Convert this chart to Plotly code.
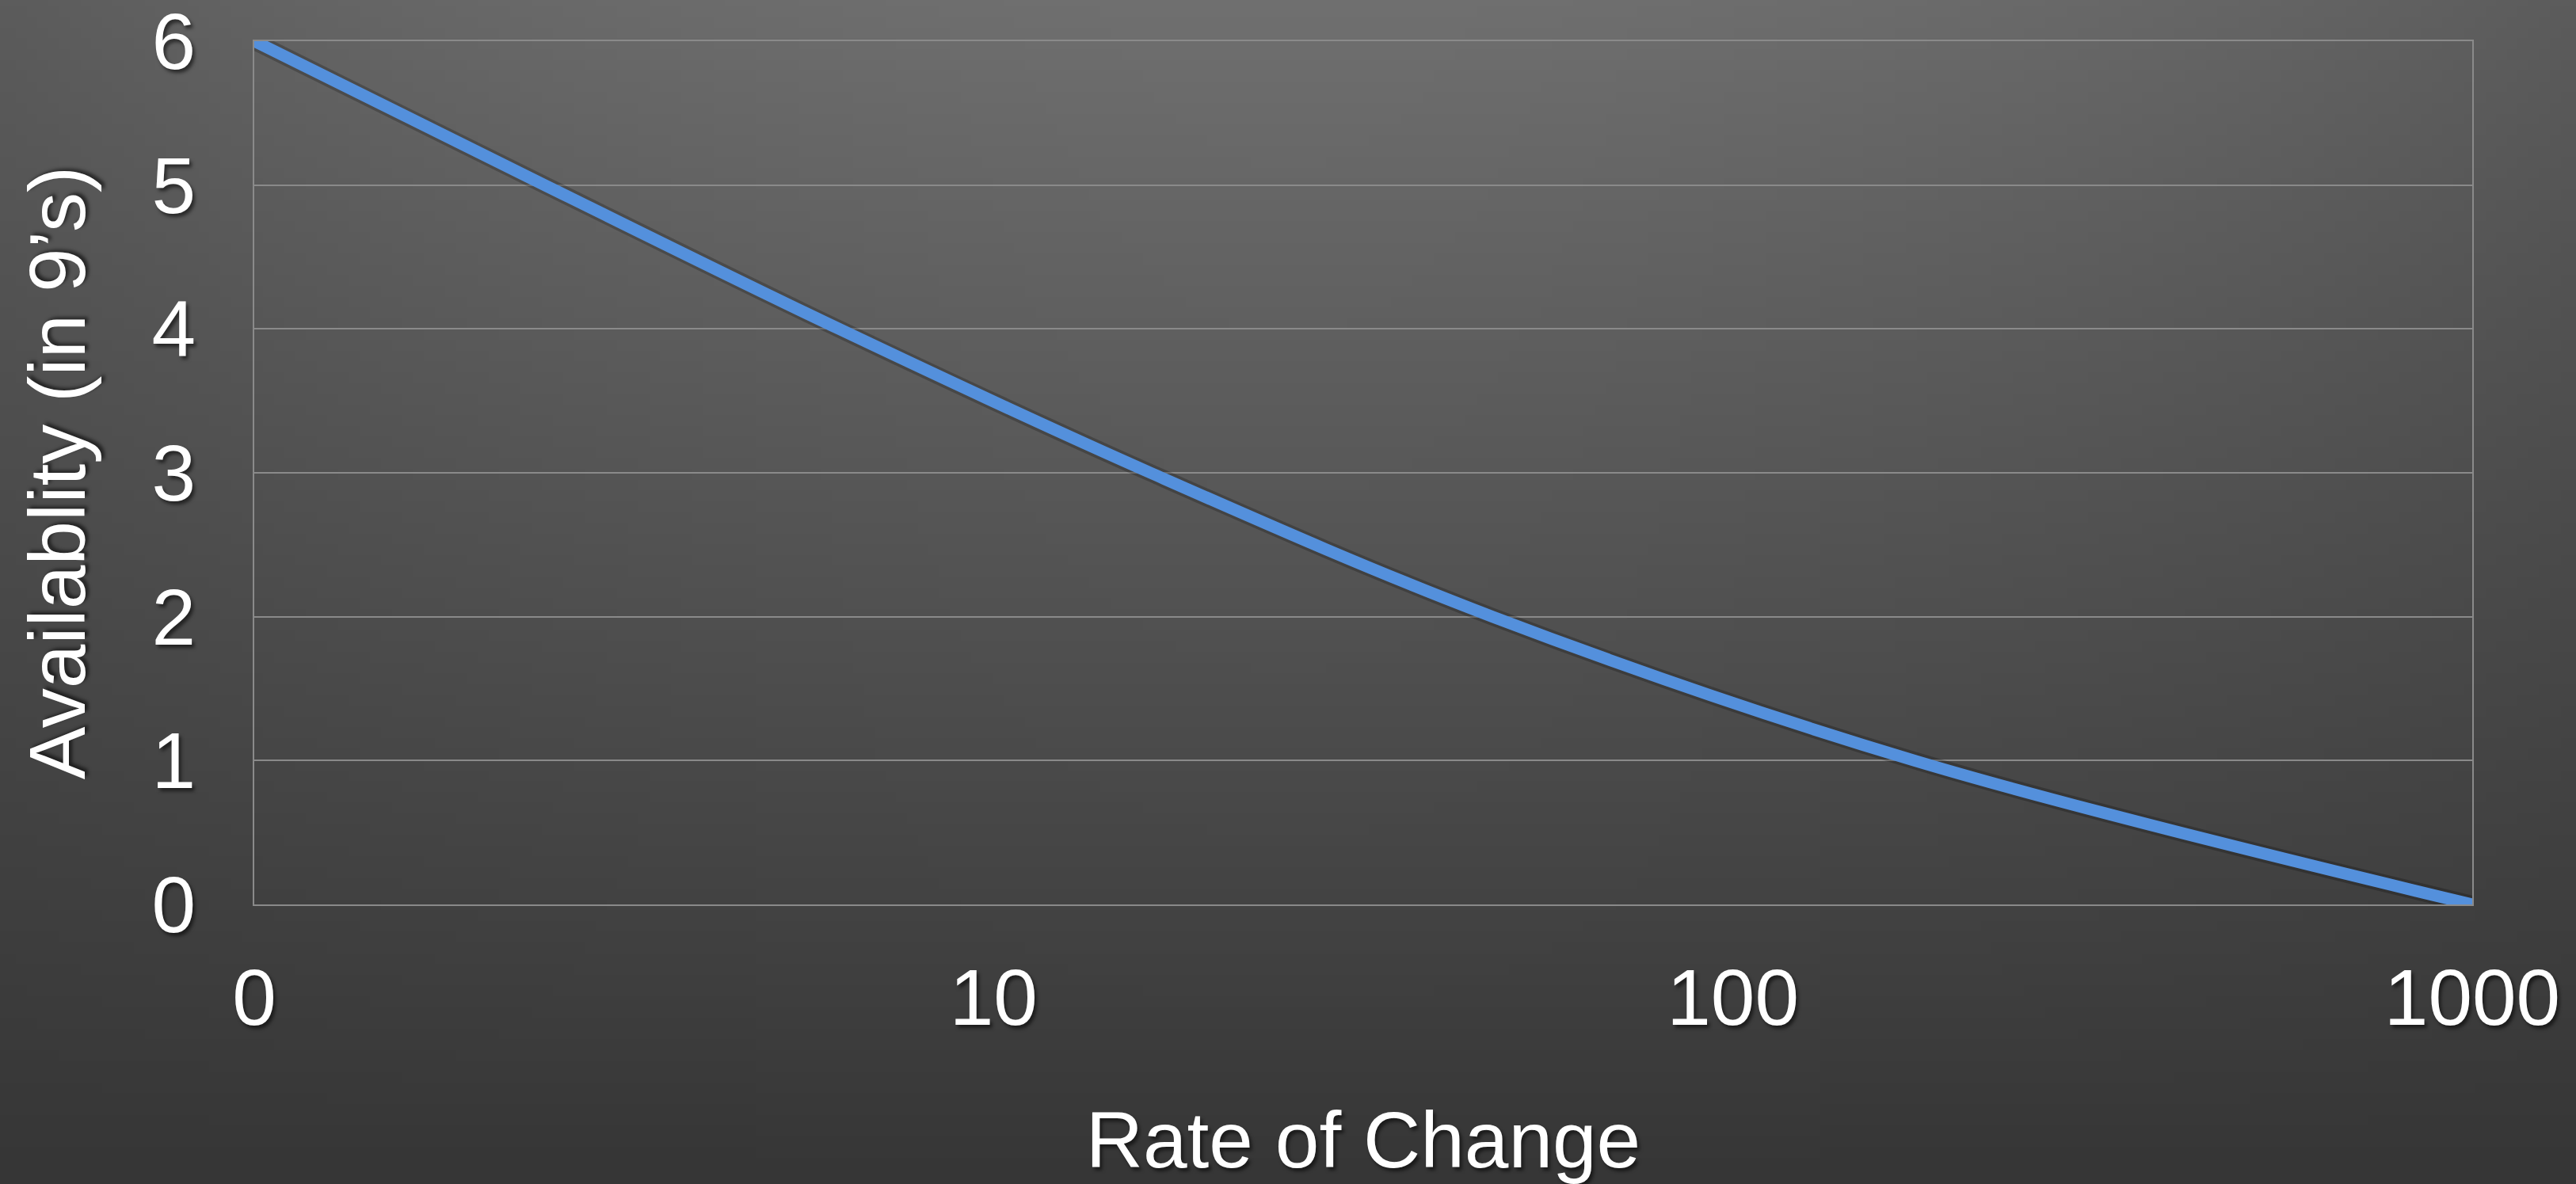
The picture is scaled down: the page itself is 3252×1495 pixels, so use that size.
import base64
import struct
import zlib

import numpy as np
import plotly.graph_objects as go

# ---- data ----
rate_of_change = [1, 2.47, 6.18, 16.3, 47.3, 176, 1000]
availability_nines = [6, 5, 4, 3, 2, 1, 0]

x_tick_vals = [1, 10, 100, 1000]
x_tick_text = ["0", "10", "100", "1000"]
y_tick_vals = [0, 1, 2, 3, 4, 5, 6]

# ---- figure geometry ----
W, H = 3252, 1495
ML, MR, MT, MB = 321, 131, 52, 353
PW, PH = W - ML - MR, H - MT - MB


def gradient_png(w=240, h=110):
    u = np.linspace(0, 1, w)[None, :]
    v = np.linspace(0, 1, h)[:, None]
    s = np.abs(u - 0.5) * 2
    c = 54 + (1 - v) * (58 - 20 * s ** 2)
    img = np.clip(c, 0, 255).astype(np.uint8)
    raw = b"".join(b"\x00" + img[r].tobytes() for r in range(h))

    def chunk(tag, data):
        return (struct.pack(">I", len(data)) + tag + data
                + struct.pack(">I", zlib.crc32(tag + data) & 0xFFFFFFFF))

    png = b"\x89PNG\r\n\x1a\n"
    png += chunk(b"IHDR", struct.pack(">IIBBBBB", w, h, 8, 0, 0, 0, 0))
    png += chunk(b"IDAT", zlib.compress(raw, 9))
    png += chunk(b"IEND", b"")
    return "data:image/png;base64," + base64.b64encode(png).decode()


FONT = "Liberation Sans, Helvetica, Arial, sans-serif"
SHADOW = "3px 4px 4px rgba(0,0,0,0.55)"
GRID = "rgb(138,138,138)"

fig = go.Figure()
fig.add_trace(go.Scatter(
    x=rate_of_change, y=availability_nines,
    mode="lines", line=dict(color="rgba(0,0,0,0.22)", width=22, shape="spline"),
    hoverinfo="skip", showlegend=False, cliponaxis=False,
))
fig.add_trace(go.Scatter(
    x=rate_of_change, y=availability_nines,
    mode="lines", line=dict(color="#5490DC", width=15, shape="spline"),
    showlegend=False, cliponaxis=False,
))

fig.update_layout(
    width=W, height=H,
    margin=dict(l=ML, r=MR, t=MT, b=MB, autoexpand=False),
    paper_bgcolor="#4a4a4a",
    plot_bgcolor="rgba(0,0,0,0)",
    font=dict(family=FONT, color="white", size=100),
    showlegend=False,
    images=[dict(
        source=gradient_png(), xref="paper", yref="paper",
        x=-ML / PW, y=1 + MT / PH, sizex=W / PW, sizey=H / PH,
        xanchor="left", yanchor="top", sizing="stretch", layer="below",
    )],
)

fig.update_xaxes(
    type="log", range=[0, 3],
    tickvals=x_tick_vals, ticktext=x_tick_text,
    showgrid=False, zeroline=False,
    showline=True, mirror=True, linecolor=GRID, linewidth=2,
    ticks="", ticklabelstandoff=30, ticklabeloverflow="allow",
    tickfont=dict(family=FONT, size=100, color="white", shadow=SHADOW),
    title=dict(text="Rate of Change", standoff=92,
               font=dict(family=FONT, size=100, color="white", shadow=SHADOW)),
    automargin=False,
)
fig.update_yaxes(
    range=[0, 6], tickvals=y_tick_vals,
    showgrid=True, gridcolor=GRID, gridwidth=2, zeroline=False,
    showline=True, mirror=True, linecolor=GRID, linewidth=2,
    ticks="", ticklabelstandoff=52, ticklabeloverflow="allow",
    tickfont=dict(family=FONT, size=100, color="white", shadow=SHADOW),
    title=dict(text="Availablity (in 9’s)", standoff=50,
               font=dict(family=FONT, size=100, color="white", shadow=SHADOW)),
    automargin=False,
)

fig.write_html(
    "out.html",
    config={"displayModeBar": False},
    post_script="document.body.style.margin='0';document.body.style.overflow='hidden';",
)
